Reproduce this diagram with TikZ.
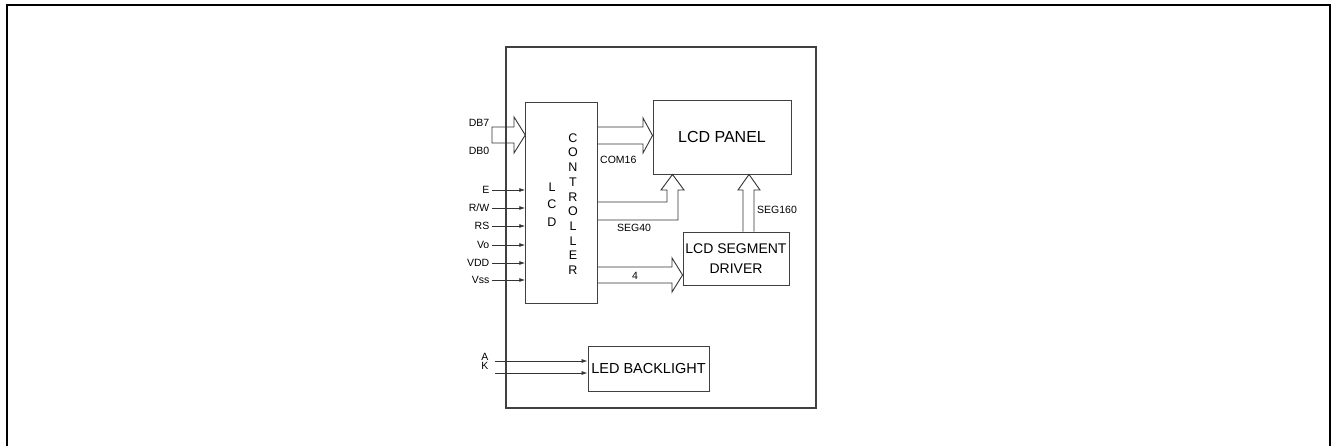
\documentclass[tikz,border=0pt]{standalone}
\usepackage{fontspec}
\setmainfont{Liberation Sans}
\usetikzlibrary{arrows.meta, positioning, calc}

\begin{document}
\begin{tikzpicture}[x=1pt, y=-1pt,
    box/.style={rectangle, draw=black!75, line width=0.9pt, inner sep=0pt},
    bus/.style={draw=black!80, line width=0.9pt, line join=miter},
    sig/.style={draw=black!80, line width=0.8pt, -{Latex[length=6pt,width=4pt]}},
    lbl/.style={font=\fontsize{10.5}{12}\selectfont, inner sep=2.5pt},
    vtext/.style={align=center, inner sep=0pt}]
    \useasboundingbox (0,0) rectangle (1334,446);
    % outer frame
    \draw[line width=1.6pt] (7,446) -- (7,5) -- (1330,5) -- (1330,446);

    \node [box, line width=1.2pt, minimum width=310pt, minimum height=361pt] (module) at (661,227.5) {};
    \node [box, minimum width=72pt, minimum height=201pt] (ctrl) at (561.7,202.5) {};
    \node [vtext, font=\fontsize{12.5}{17.5}\selectfont] (lcdtxt) at (552,204.5) {L\\C\\D};
    \node [vtext, font=\fontsize{12.5}{14.7}\selectfont] (ctrltxt) at (573,204) {C\\O\\N\\T\\R\\O\\L\\L\\E\\R};
    \node [box, minimum width=138pt, minimum height=74pt, font=\fontsize{16}{18}\selectfont] (panel) at (722,137) {LCD PANEL};
    \node [box, minimum width=106pt, minimum height=53pt, align=center, font=\fontsize{14}{20}\selectfont] (driver) at (736,258.5) {LCD SEGMENT\\DRIVER};
    \node [box, minimum width=121pt, minimum height=45pt, font=\fontsize{14.5}{17}\selectfont] (led) at (648.5,368.5) {LED BACKLIGHT};

    % data bus
    \node [lbl, anchor=east] (db7) at (492,123) {DB7};
    \node [lbl, anchor=east] (db0) at (492,151) {DB0};
    \draw [bus] (492,127) -- (514,127) -- (514,117) -- (ctrl.west |- 0,135) -- (514,153) -- (514,143) -- (492,143) -- cycle;

    % COM16
    \draw [bus] (ctrl.east |- 0,127) -- (643,127) -- (643,118) -- (panel.west |- 0,135.5) -- (643,153) -- (643,144) -- (ctrl.east |- 0,144);
    \node [lbl, anchor=west, inner sep=1pt] (com) at (599,160) {COM16};

    % SEG40
    \draw [bus] (ctrl.east |- 0,202) -- (667,202) -- (667,190) -- (661,190) -- (panel.south -| 672.5,0) -- (684,190) -- (678,190) -- (678,220) -- (ctrl.east |- 0,220);
    \node [lbl, anchor=west, inner sep=1pt] (seg40) at (616,228) {SEG40};

    % SEG160
    \draw [bus] (driver.north -| 743,0) -- (743,190) -- (738,190) -- (panel.south -| 749,0) -- (760,190) -- (754,190) -- (driver.north -| 754,0);
    \node [lbl, anchor=west, inner sep=1pt] (seg160) at (756,210) {SEG160};

    % 4 lines to driver
    \draw [bus] (ctrl.east |- 0,267) -- (672,267) -- (672,258) -- (driver.west |- 0,275) -- (672,292) -- (672,283) -- (ctrl.east |- 0,283);
    \node [lbl, inner sep=0pt] (four) at (635,275.5) {4};

    % control signals
    \node [lbl, anchor=east] (e) at (492,190) {E};
    \node [lbl, anchor=east] (rw) at (492,208) {R/W};
    \node [lbl, anchor=east] (rs) at (492,226) {RS};
    \node [lbl, anchor=east] (vo) at (492,245) {Vo};
    \node [lbl, anchor=east] (vdd) at (492,263) {VDD};
    \node [lbl, anchor=east] (vss) at (492,280) {Vss};
    \foreach \s in {e, rw, rs, vo, vdd, vss}
        \draw [sig] (\s.east) -- (\s.east -| ctrl.west);

    % backlight
    \node [lbl, anchor=east] (anode) at (491,357) {A};
    \node [lbl, anchor=east] (kathode) at (491,366) {K};
    \coordinate (a0) at (495,361);
    \coordinate (k0) at (495,373);
    \draw [sig] (a0) -- (a0 -| led.west);
    \draw [sig] (k0) -- (k0 -| led.west);
\end{tikzpicture}
\end{document}
